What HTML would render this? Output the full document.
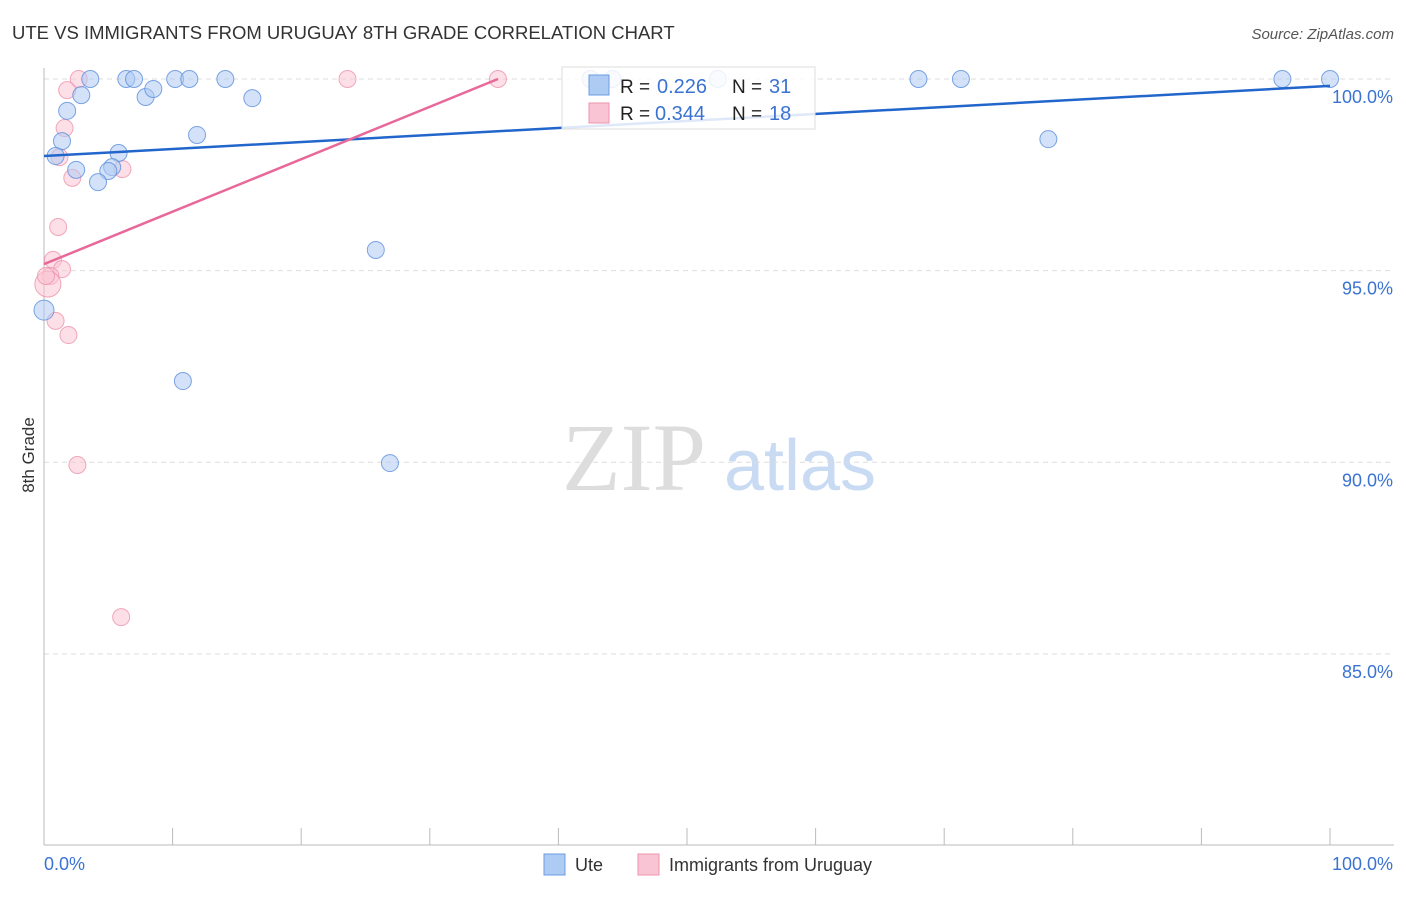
<!DOCTYPE html>
<html><head><meta charset="utf-8"><style>
body{margin:0;background:#fff;font-family:"Liberation Sans",sans-serif}
</style></head><body>
<svg id="c" width="1406" height="892" xmlns="http://www.w3.org/2000/svg" style="font-family:'Liberation Sans',sans-serif">
<text x="12" y="39" font-size="18.5" fill="#333">UTE VS IMMIGRANTS FROM URUGUAY 8TH GRADE CORRELATION CHART</text>
<text x="1394" y="39" font-size="15" fill="#555" text-anchor="end" font-style="italic">Source: ZipAtlas.com</text>
<text x="34" y="455" font-size="17" fill="#333" text-anchor="middle" transform="rotate(-90 34 455)">8th Grade</text>
<g><text x="634" y="490" font-size="96" fill="#ddd" text-anchor="middle" font-family="Liberation Serif">ZIP</text><text x="800" y="490" font-size="72" fill="#c9daf3" text-anchor="middle">atlas</text></g>
<g id="grid"></g><g id="axes"></g><g id="pts"></g><g id="lines"></g>
<g>
<rect x="562" y="67" width="253" height="62" fill="#fff" fill-opacity="0.85" stroke="#ddd"/>
<rect x="589" y="75" width="20" height="20" fill="#aecbf3" stroke="#6c9de0"/>
<rect x="589" y="103" width="20" height="20" fill="#f9c5d4" stroke="#ee93ad"/>
<text x="620" y="93" font-size="19" fill="#222">R =</text>
<text x="657" y="93" font-size="20" fill="#3a73d2">0.226</text>
<text x="732" y="93" font-size="19" fill="#222">N =</text>
<text x="769" y="93" font-size="20" fill="#3a73d2">31</text>
<text x="620" y="120" font-size="19" fill="#222">R =</text>
<text x="655" y="120" font-size="20" fill="#3a73d2">0.344</text>
<text x="732" y="120" font-size="19" fill="#222">N =</text>
<text x="769" y="120" font-size="20" fill="#3a73d2">18</text>
</g>
<g>
<rect x="544" y="854" width="21" height="21" fill="#aecbf3" stroke="#6c9de0"/>
<text x="575" y="871" font-size="18" fill="#333">Ute</text>
<rect x="638" y="854" width="21" height="21" fill="#f9c5d4" stroke="#ee93ad"/>
<text x="669" y="871" font-size="18" fill="#333">Immigrants from Uruguay</text>
</g>
</svg>
<script>
const yTicks=[100,95,90,85];
const yTickLabels=["100.0%","95.0%","90.0%","85.0%"];
const uteX=[3.6,6.4,7.0,10.2,11.3,14.1,2.9,7.9,8.5,1.8,16.2,11.9,1.4,0.9,5.8,5.3,5.0,2.5,4.2,25.8,10.8,26.9,0,42.5,44.2,52.4,68.0,71.3,78.1,96.3,100];
const uteY=[100,100,100,100,100,100,99.58,99.53,99.74,99.17,99.5,98.54,98.38,97.99,98.07,97.7,97.6,97.63,97.31,95.54,92.12,89.98,93.97,100,100,100,100,100,98.43,100,100];
const uryX=[2.7,23.6,35.3,1.8,1.6,1.2,6.1,2.2,1.1,0.7,1.4,0.5,0.3,0.9,1.9,2.6,6.0,0.15];
const uryY=[100,100,100,99.71,98.72,97.96,97.65,97.42,96.14,95.28,95.04,94.86,94.65,93.69,93.32,89.93,85.96,94.86];
const uteTrend=[[0,97.99],[100,99.82]];
const uryTrend=[[0,95.17],[35.3,100]];
const NS="http://www.w3.org/2000/svg";
const X=v=>44+v*12.86, Y=v=>79+(100-v)*38.33;
function mk(t,a,p){const e=document.createElementNS(NS,t);for(const k in a)e.setAttribute(k,a[k]);document.getElementById(p).appendChild(e);return e;}
yTicks.forEach((t,i)=>{
 const l=mk('line',{x1:44,x2:1394,y1:Y(t),y2:Y(t),stroke:'#ddd','stroke-dasharray':'5,4'},'grid');
 
 
 const tx=mk('text',{x:1393,y:Y(t)+24,'font-size':18,fill:'#3a73d2','text-anchor':'end'},'grid');
 tx.textContent=yTickLabels[i];
 
 
});
const ax=mk('line',{x1:44,x2:44,y1:68,y2:845,stroke:'#bbb'},'axes');


const bx=mk('line',{x1:44,x2:1394,y1:845,y2:845,stroke:'#bbb'},'axes');


for(let i=1;i<=10;i++){const t=mk('line',{x1:X(i*10),x2:X(i*10),y1:828,y2:845,stroke:'#bbb'},'axes');
 
 }
[["0.0%",44,'start'],["100.0%",1393,'end']].forEach(d=>{const t=mk('text',{x:d[1],y:870,'font-size':18,fill:'#3a73d2','text-anchor':d[2]},'axes');t.textContent=d[0];
 
 });
uryX.forEach((v,i)=>{const c=mk('circle',{cx:X(v),cy:Y(uryY[i]),r:i==12?13:8.5,fill:'#f9c5d4','fill-opacity':0.55,stroke:'#ee93ad','stroke-opacity':0.8},'pts');
 
 });
uteX.forEach((v,i)=>{const c=mk('circle',{cx:X(v),cy:Y(uteY[i]),r:i==22?10:8.5,fill:'#aecbf3','fill-opacity':0.55,stroke:'#5b8fdd','stroke-opacity':0.8},'pts');
 
 });
const l1=mk('line',{x1:X(uteTrend[0][0]),y1:Y(uteTrend[0][1]),x2:X(uteTrend[1][0]),y2:Y(uteTrend[1][1]),stroke:'#2266cc','stroke-width':2.5},'lines');


const l2=mk('line',{x1:X(uryTrend[0][0]),y1:Y(uryTrend[0][1]),x2:X(uryTrend[1][0]),y2:Y(uryTrend[1][1]),stroke:'#e8689a','stroke-width':2.5},'lines');


</script>
</body></html>
